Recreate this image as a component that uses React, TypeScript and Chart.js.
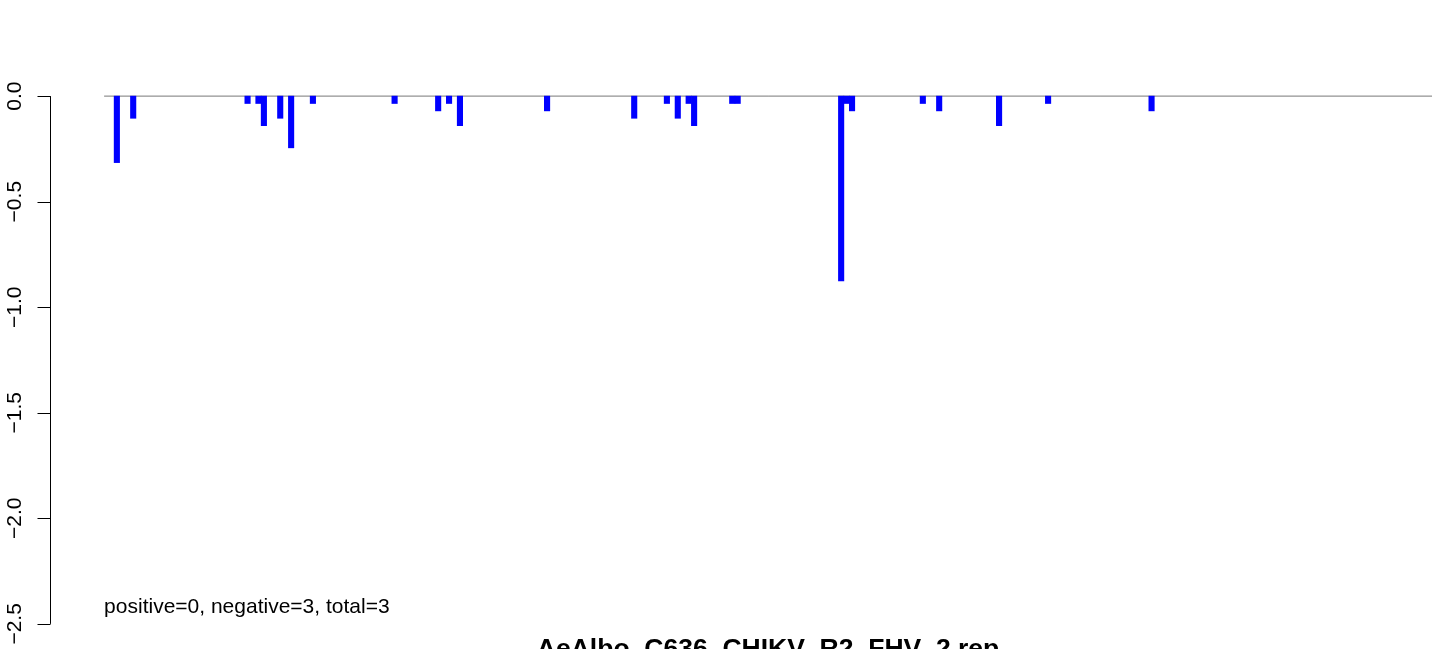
import { useEffect, useRef } from "react";
import { Chart, registerables } from "chart.js";

Chart.register(...registerables);

// ---- data ----
const slotIndex = [0, 3, 24, 26, 27, 30, 32, 36, 51, 59, 61, 63, 79, 95, 101, 103, 105, 106, 113, 114, 133, 134, 135, 148, 151, 162, 171, 190];
const depthValues = [-0.315, -0.105, -0.035, -0.035, -0.14, -0.105, -0.245, -0.035, -0.035, -0.07, -0.035, -0.14, -0.07, -0.105, -0.035, -0.105, -0.035, -0.14, -0.035, -0.035, -0.875, -0.035, -0.07, -0.035, -0.07, -0.14, -0.035, -0.07];
const yTickValues = [0, -0.5, -1, -1.5, -2, -2.5];
const yTickLabels = ["0.0", "\u22120.5", "\u22121.0", "\u22121.5", "\u22122.0", "\u22122.5"];
const summaryText = "positive=0, negative=3, total=3";
const titleText = "AeAlbo_C636_CHIKV_R2_FHV_2 rep";

// axis ranges
const xLineStart = -1.84;
const xLineEnd = 242;
const xMin = xLineStart - 0.04 * (xLineEnd - xLineStart);
const xMax = 244.2;
const yMin = -2.6;
const yMax = 0.1;
const summaryY = -2.45;

const FONT = '"Liberation Sans", Arial, Helvetica, sans-serif';

export default function App() {
  const ref = useRef<HTMLCanvasElement>(null);

  useEffect(() => {
    const canvas = ref.current;
    if (!canvas) return;

    const decor = {
      id: "rDecor",
      beforeDatasetsDraw(chart: any) {
        const { ctx } = chart;
        const xs = chart.scales.x;
        const ys = chart.scales.y;
        const y0 = ys.getPixelForValue(0);
        ctx.save();
        ctx.strokeStyle = "#777777";
        ctx.lineWidth = 1;
        ctx.beginPath();
        ctx.moveTo(xs.getPixelForValue(xLineStart), y0);
        ctx.lineTo(xs.getPixelForValue(xLineEnd), y0);
        ctx.stroke();
        ctx.restore();
      },
      afterDraw(chart: any) {
        const { ctx, chartArea } = chart;
        const xs = chart.scales.x;
        const ys = chart.scales.y;
        const axisX = Math.round(chartArea.left) - 0.5;
        ctx.save();
        // y axis line
        ctx.strokeStyle = "#000";
        ctx.lineWidth = 1;
        ctx.beginPath();
        ctx.moveTo(axisX, ys.getPixelForValue(yTickValues[0]));
        ctx.lineTo(axisX, ys.getPixelForValue(yTickValues[yTickValues.length - 1]));
        ctx.stroke();
        // ticks + labels
        ctx.fillStyle = "#000";
        ctx.font = `21px ${FONT}`;
        ctx.textAlign = "center";
        ctx.textBaseline = "alphabetic";
        yTickValues.forEach((v, i) => {
          const py = Math.round(ys.getPixelForValue(v)) + 0.5;
          ctx.beginPath();
          ctx.moveTo(axisX, py);
          ctx.lineTo(axisX - 13, py);
          ctx.stroke();
          ctx.save();
          ctx.translate(axisX - 29.5, ys.getPixelForValue(v));
          ctx.rotate(-Math.PI / 2);
          ctx.fillText(yTickLabels[i], 0, 0);
          ctx.restore();
        });
        // summary text
        ctx.textAlign = "left";
        ctx.fillText(summaryText, xs.getPixelForValue(xLineStart), ys.getPixelForValue(summaryY));
        // title (cut off at the bottom, as in the reference)
        ctx.font = `bold 26.5px ${FONT}`;
        ctx.textAlign = "center";
        ctx.fillText(
          titleText,
          xs.getPixelForValue((xLineStart + xLineEnd) / 2),
          chartArea.bottom + 12
        );
        ctx.restore();
      },
    };

    const chart = new Chart(canvas, {
      type: "bar",
      data: {
        datasets: [
          {
            data: slotIndex.map((s, i) => ({ x: s + 0.5, y: depthValues[i] })),
            backgroundColor: "#0000FF",
            borderWidth: 0,
            barPercentage: 1,
            categoryPercentage: 1,
          },
        ],
      },
      options: {
        responsive: false,
        animation: false,
        devicePixelRatio: 1,
        events: [],
        layout: { padding: { left: 51, top: 75, right: 0, bottom: 4 } },
        plugins: { legend: { display: false }, tooltip: { enabled: false }, title: { display: false } },
        scales: {
          x: { type: "linear", display: false, offset: false, min: xMin, max: xMax, grid: { display: false } },
          y: { type: "linear", display: false, min: yMin, max: yMax, grid: { display: false } },
        },
      },
      plugins: [decor],
    });

    return () => chart.destroy();
  }, []);

  return (
    <div style={{ position: "fixed", left: 0, top: 0, width: 1444, height: 649, background: "#fff", overflow: "hidden" }}>
      <canvas ref={ref} width={1444} height={649} style={{ display: "block" }} />
    </div>
  );
}
